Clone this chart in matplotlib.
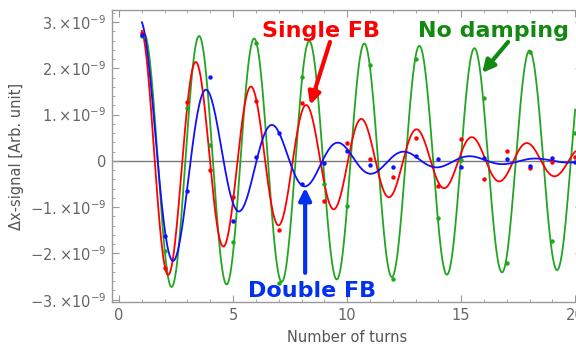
#!/usr/bin/env python3
"""
Δx-signal vs number of turns -- no damping / single FB / double FB
"""

import numpy as np
import matplotlib
matplotlib.use('Agg')
import matplotlib.pyplot as plt
from matplotlib.ticker import MultipleLocator, FixedLocator

GREEN  = '#22a622'
RED    = '#ff0000'
BLUE   = '#1010ff'
TXT_G  = '#128a12'
TXT_B  = '#0030f0'
FRAME  = '#9a9a9a'
LABEL  = '#555555'

# ============================================================
# data (x1e-9), one point per turn
# ============================================================
TURNS = [1, 2, 3, 4, 5, 6, 7, 8, 9, 10, 11, 12, 13, 14, 15, 16, 17, 18, 19, 20]

GREEN_PTS = [2.70, -1.95, 1.14, 0.35, -1.75, 2.55, -2.63, 1.81, -0.50, -0.97,
             2.07, -2.55, 2.20, -1.23, 0.02, 1.36, -2.20, 2.35, -1.73, 0.60]
RED_PTS   = [2.76, -2.31, 1.27, -0.19, -0.78, 1.30, -1.49, 1.25, -0.86, 0.39,
             0.04, -0.35, 0.50, -0.54, 0.48, -0.39, 0.22, -0.15, -0.02, 0.09]
BLUE_PTS  = [2.72, -1.62, -0.65, 1.81, -1.30, 0.09, 0.60, -0.50, -0.04, 0.22,
             -0.10, -0.13, 0.10, 0.04, -0.13, 0.06, 0.04, -0.12, 0.06, -0.02]

# fitted damped oscillation: amplitude (x1e-9), decay per turn, period (turns), first peak (turn)
GREEN_FIT = (2.78, 0.0085, 2.415, 1.095)
RED_FIT   = (3.18, 0.118, 2.42, 0.96)
BLUE_FIT  = (3.80, 0.236, 2.89, 0.97)

YTICKS = [-3, -2, -1, 0, 1, 2, 3]
YTICK_LABELS = [r'$-3.{\times}10^{-9}$', r'$-2.{\times}10^{-9}$', r'$-1.{\times}10^{-9}$', '0',
                r'$1.{\times}10^{-9}$', r'$2.{\times}10^{-9}$', r'$3.{\times}10^{-9}$']
XTICKS = [0, 5, 10, 15, 20]


def fit_curve(n, p):
    a, d, T, t0 = p
    return a * np.exp(-d * n) * np.cos(2 * np.pi * (n - t0) / T)


def draw(output='out.png'):
    fig = plt.figure(figsize=(5.76, 3.48), dpi=100)
    ax = fig.add_axes([112 / 576, 46 / 348, 470 / 576, 292 / 348])

    n = np.linspace(TURNS[0], TURNS[-1], 800)
    ax.axhline(0, color='#7a7a7a', lw=1.0, zorder=1)

    for fit, pts, c in [(GREEN_FIT, GREEN_PTS, GREEN),
                        (RED_FIT, RED_PTS, RED),
                        (BLUE_FIT, BLUE_PTS, BLUE)]:
        ax.plot(n, fit_curve(n, fit), color=c, lw=1.3, zorder=3)
        ax.plot(TURNS, pts, 'o', color=c, ms=3.2, mec='none', zorder=4)

    # ---- labels + arrows ----
    ax.text(6.27, 2.68, 'Single FB', color=RED, fontsize=16, fontweight='bold',
            va='baseline', ha='left', zorder=6)
    ax.text(13.11, 2.68, 'No damping', color=TXT_G, fontsize=16, fontweight='bold',
            va='baseline', ha='left', zorder=6)
    ax.text(5.66, -2.94, 'Double FB', color=TXT_B, fontsize=16, fontweight='bold',
            va='baseline', ha='left', zorder=6)

    arrow = dict(arrowstyle='-|>', lw=3, mutation_scale=18, shrinkA=0, shrinkB=0)
    ax.annotate('', xy=(8.38, 1.21), xytext=(9.25, 2.57),
                arrowprops=dict(arrow, color=RED), zorder=6)
    ax.annotate('', xy=(15.92, 1.90), xytext=(17.06, 2.57),
                arrowprops=dict(arrow, color=TXT_G), zorder=6)
    ax.annotate('', xy=(8.16, -0.58), xytext=(8.16, -2.42),
                arrowprops=dict(arrow, color=TXT_B), zorder=6)

    # ---- axes ----
    ax.set_xlim(-0.31, 20.3)
    ax.set_ylim(-3.05, 3.26)
    ax.xaxis.set_major_locator(FixedLocator(XTICKS))
    ax.xaxis.set_minor_locator(MultipleLocator(1))
    ax.yaxis.set_major_locator(FixedLocator(YTICKS))
    ax.yaxis.set_minor_locator(MultipleLocator(0.2))
    ax.set_yticklabels(YTICK_LABELS)
    ax.tick_params(which='both', direction='in', top=True, right=True,
                   color=FRAME, labelcolor='#666666', labelsize=10.5, pad=4)
    ax.tick_params(which='major', length=5, width=0.8)
    ax.tick_params(which='minor', length=2.5, width=0.6)
    for spine in ax.spines.values():
        spine.set_edgecolor(FRAME)
        spine.set_linewidth(1.0)

    ax.set_xlabel('Number of turns', fontsize=10.5, color=LABEL, labelpad=5)
    ax.set_ylabel('Δx-signal [Arb. unit]', fontsize=10.5, color=LABEL, labelpad=4)

    fig.savefig(output, dpi=100, facecolor='white')
    plt.close(fig)


if __name__ == '__main__':
    draw('out.png')
